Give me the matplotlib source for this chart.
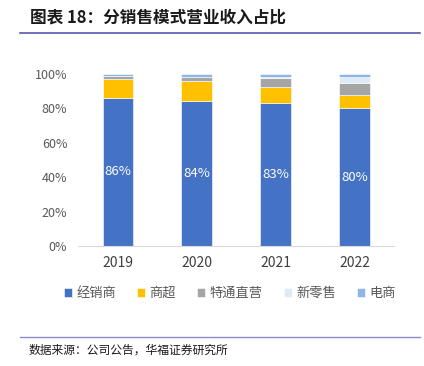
import numpy as np
import matplotlib
matplotlib.use('Agg')
from matplotlib import pyplot as plt
from matplotlib.lines import Line2D

plt.rcParams['font.family'] = ['Noto Sans CJK SC', 'DejaVu Sans']

years = ['2019', '2020', '2021', '2022']
series_names = ['经销商', '商超', '特通直营', '新零售', '电商']
dealer = [86, 84, 83, 80]
supermarket = [11, 12, 9.5, 8]
special = [2, 2, 5, 6.5]
new_retail = [0, 0, 0.5, 4]
ecommerce = [1, 2, 2, 1.5]
colors = ['#4472C4', '#FFC000', '#A5A5A5', '#DEEBF7', '#8DB7E2']

series = [dealer, supermarket, special, new_retail, ecommerce]

fig = plt.figure(figsize=(4.24, 3.66), dpi=100)
ax = fig.add_axes([0.185, 0.328, 0.745, 0.470])

x = np.arange(len(years))
bottom = np.zeros(len(years))
for vals, name, c in zip(series, series_names, colors):
    v = np.array(vals) / 100
    ax.bar(x, v, 0.39, bottom=bottom, color=c, label=name, edgecolor='white', linewidth=0.4)
    bottom += v

for i, v in enumerate(dealer):
    ax.text(x[i], v / 200, f'{v}%', ha='center', va='center', color='white', fontsize=9.5)

ax.set_xlim(-0.5, len(years) - 0.5)
ax.set_ylim(0, 1.0)
ax.set_yticks(np.arange(0, 1.01, 0.2))
ax.set_yticklabels([f'{int(t * 100)}%' for t in np.arange(0, 1.01, 0.2)])
ax.set_xticks(x)
ax.set_xticklabels(years)
ax.tick_params(axis='y', length=0, labelsize=9, colors='#595959', pad=8)
ax.tick_params(axis='x', length=0, labelsize=10, colors='#404040', pad=7)
for s in ['top', 'right', 'left']:
    ax.spines[s].set_visible(False)
ax.spines['bottom'].set_color('#D9D9D9')

ax.legend(loc='upper center', bbox_to_anchor=(0.48, -0.17), ncol=5, frameon=False,
          fontsize=9.5, handlelength=0.6, handleheight=0.6, handletextpad=0.35,
          columnspacing=1.6, labelcolor='#595959')

fig.text(0.07, 0.952, '图表 18：分销售模式营业收入占比', fontsize=12, fontweight='bold',
         va='center', ha='left', color='#1a1a1a')
fig.add_artist(Line2D([0.047, 0.99], [0.909, 0.909], color='#5656B0', linewidth=1.2))
fig.add_artist(Line2D([0.047, 0.99], [0.079, 0.079], color='#8C8CC8', linewidth=1.0))
fig.text(0.068, 0.042, '数据来源：公司公告，华福证券研究所', fontsize=8.5, va='center', ha='left',
         color='#1a1a1a')

fig.savefig('out.png', dpi=100)
